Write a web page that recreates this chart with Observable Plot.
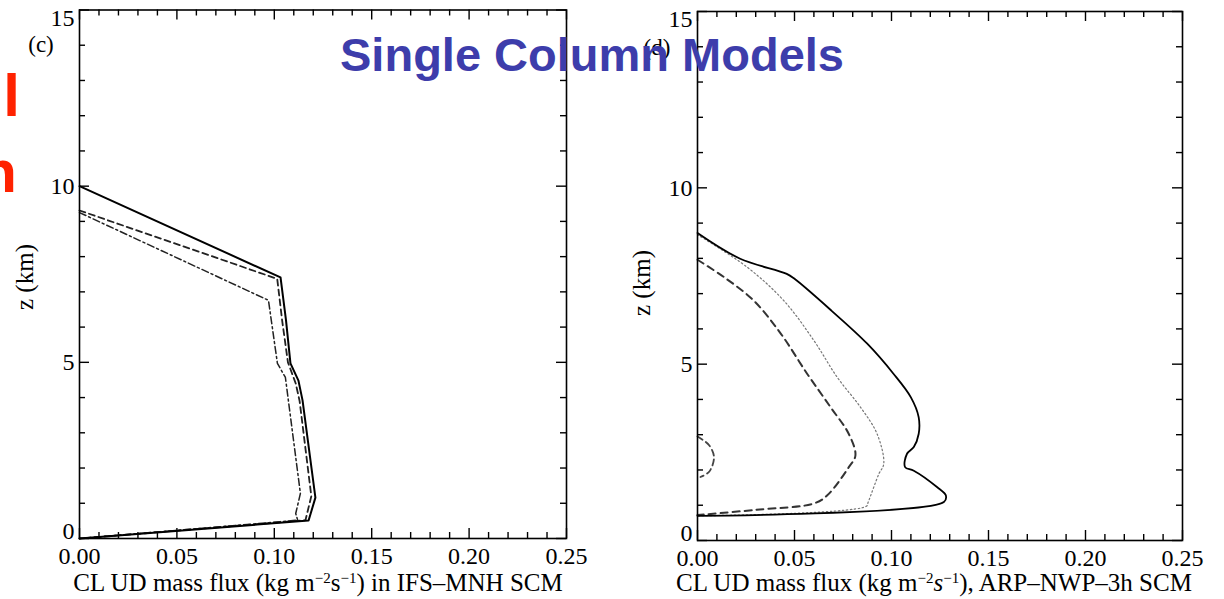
<!DOCTYPE html>
<html><head><meta charset="utf-8">
<script src="https://cdn.jsdelivr.net/npm/d3@7"></script>
<script src="https://cdn.jsdelivr.net/npm/@observablehq/plot@0.6"></script>
<style>
body{margin:0;background:#fff;}
#wrap{position:relative;width:1224px;height:599px;overflow:hidden;background:#fff;font-family:"Liberation Serif",serif;color:#000;}
.abs{position:absolute;white-space:nowrap;}
.panel{position:absolute;top:0;}
sup{font-size:0.6em;line-height:0;vertical-align:0.55em;}
</style></head><body><div id="wrap"></div>
<script>
// ---- tick values ----
const xMajor = [0, 0.05, 0.10, 0.15, 0.20, 0.25];
const xMinor = [0.01,0.02,0.03,0.04,0.06,0.07,0.08,0.09,0.11,0.12,0.13,0.14,0.16,0.17,0.18,0.19,0.21,0.22,0.23,0.24];
const yMajor = [0, 5, 10, 15];
const yMinor = [1,2,3,4,6,7,8,9,11,12,13,14];

// ---- left panel (c): IFS-MNH SCM, [mass flux, z km] ----
const ifsSolid = [[0.000,10.00],[0.1032,7.41],[0.1060,6.20],[0.1083,4.97],[0.1124,4.48],[0.1145,3.92],[0.1211,1.16],[0.1176,0.51],[0.000,0.00]];
const ifsDashed = [[0.000,9.31],[0.1015,7.37],[0.1040,6.20],[0.1070,5.00],[0.1110,4.40],[0.1130,3.90],[0.1190,1.20],[0.1160,0.52],[0.000,0.00]];
const ifsDashDot = [[0.000,9.25],[0.0970,6.76],[0.1016,4.97],[0.1057,4.57],[0.1134,1.28],[0.1110,0.71],[0.1120,0.52],[0.000,0.00]];

// ---- right panel (d): ARP-NWP-3h SCM ----
const arpSolid = [[0.000,8.72],[0.022,7.99],[0.046,7.56],[0.050,7.42],[0.069,6.52],[0.0875,5.58],[0.101,4.73],[0.110,4.06],[0.114,3.50],[0.114,3.02],[0.1115,2.65],[0.108,2.46],[0.107,2.08],[0.1115,1.98],[0.1236,1.51],[0.128,1.28],[0.127,1.09],[0.000,0.70]];
const arpDotted = [[0.000,8.67],[0.0256,7.75],[0.0445,6.80],[0.060,5.67],[0.072,4.63],[0.084,3.78],[0.0926,3.02],[0.096,2.17],[0.0935,1.89],[0.088,1.09],[0.087,0.97],[0.000,0.70]];
const arpDashed = [[0.000,7.96],[0.0136,7.47],[0.029,6.80],[0.043,5.86],[0.0565,4.73],[0.0686,3.78],[0.078,3.02],[0.0814,2.41],[0.078,2.08],[0.0669,1.28],[0.060,1.05],[0.030,0.87],[0.000,0.72]];
const arpBump = [[0.000,2.95],[0.006,2.70],[0.0085,2.36],[0.006,1.95],[0.0015,1.80]];

function panel({lines, marginLeft, marginRight, marginTop, marginBottom}) {
  const W = 612, H = 599;
  const ph = H - marginTop - marginBottom;
  const pw = W - marginLeft - marginRight;
  const tk = {stroke:"#000", strokeWidth:1.4};
  const ax = {tickSize:0, label:null, fontSize:24, fontFamily:"Liberation Serif"};
  return Plot.plot({
    width: W, height: H, marginLeft, marginRight, marginTop, marginBottom,
    x: {domain:[0,0.25]}, y: {domain:[0,15]},
    style: {fontFamily:"Liberation Serif", fontSize:"24px", color:"#000", background:"transparent", overflow:"visible"},
    marks: [
      Plot.ruleX(xMajor, {...tk, insetTop: ph-10}),
      Plot.ruleX(xMinor, {...tk, insetTop: ph-6}),
      Plot.ruleX(xMajor, {...tk, insetBottom: ph-10}),
      Plot.ruleX(xMinor, {...tk, insetBottom: ph-6}),
      Plot.ruleY(yMajor, {...tk, insetRight: pw-10}),
      Plot.ruleY(yMinor, {...tk, insetRight: pw-6}),
      Plot.ruleY(yMajor, {...tk, insetLeft: pw-10}),
      Plot.ruleY(yMinor, {...tk, insetLeft: pw-6}),
      Plot.axisX(xMajor, {...ax, anchor:"bottom", tickPadding:8, tickFormat: d3.format(".2f")}),
      Plot.axisY([5,10], {...ax, anchor:"left", tickPadding:5}),
      Plot.axisY([15], {...ax, anchor:"left", tickPadding:5, dy:8}),
      Plot.axisY([0], {...ax, anchor:"left", tickPadding:5, dy:-7}),
      ...lines.map(l => Plot.line(l.data, {x: d=>d[0], y: d=>d[1], stroke: l.color || "#000", strokeWidth: l.width, strokeDasharray: l.dash, curve: l.curve || "linear"})),
      Plot.frame({stroke:"#000", strokeWidth:1.6})
    ]
  });
}

const wrap = document.getElementById("wrap");
const left = panel({
  marginLeft:79, marginRight:46, marginTop:9.5, marginBottom:61,
  lines: [
    {data: ifsDashDot, width:1.5, dash:"7,3,2,3", color:"#222"},
    {data: ifsDashed, width:1.8, dash:"6,4", color:"#222"},
    {data: ifsSolid, width:2}
  ]
});
left.classList.add("panel"); left.style.left = "0px";
wrap.appendChild(left);

const right = panel({
  marginLeft:85, marginRight:42, marginTop:11, marginBottom:59,
  lines: [
    {data: arpBump, width:1.8, dash:"6,4", color:"#444", curve:"catmull-rom"},
    {data: arpDotted, width:1.2, dash:"1.5,2.5", color:"#777", curve:"catmull-rom"},
    {data: arpDashed, width:2, dash:"7,5", color:"#333", curve:"catmull-rom"},
    {data: arpSolid, width:1.8, curve:"catmull-rom"}
  ]
});
right.classList.add("panel"); right.style.left = "612px";
wrap.appendChild(right);

function addText(html, css) {
  const d = document.createElement("div");
  d.className = "abs";
  d.innerHTML = html;
  Object.assign(d.style, css);
  wrap.appendChild(d);
  return d;
}
// axis titles
addText("CL UD mass flux (kg m<sup>&minus;2</sup>s<sup>&minus;1</sup>) in IFS&ndash;MNH SCM",
  {left:"0px", width:"636px", textAlign:"center", top:"570px", fontSize:"25px", lineHeight:"25px"});
addText("CL UD mass flux (kg m<sup>&minus;2</sup><i>s</i><sup>&minus;1</sup>), ARP&ndash;NWP&ndash;3h SCM",
  {left:"612px", width:"644px", textAlign:"center", top:"570px", fontSize:"25px", lineHeight:"25px"});
addText("z (km)", {left:"24px", top:"277px", fontSize:"25px", lineHeight:"25px", transform:"translate(-50%,-50%) rotate(-90deg)"});
addText("z (km)", {left:"641px", top:"283px", fontSize:"25px", lineHeight:"25px", transform:"translate(-50%,-50%) rotate(-90deg)"});
addText("(c)", {left:"41px", top:"45px", fontSize:"23px", lineHeight:"16px", transform:"translate(-50%,-50%)"});
addText("(d)", {left:"657px", top:"48px", fontSize:"23px", lineHeight:"16px", transform:"translate(-50%,-50%)"});
// slide overlay text
addText("Single Column Models", {left:"292px", width:"600px", textAlign:"center", top:"36.5px", fontFamily:"'Liberation Sans',Arial,sans-serif", fontWeight:"bold", fontSize:"47px", lineHeight:"36px", color:"#3d3dab"});
addText("l", {right:"1204px", top:"66px", fontFamily:"'Liberation Sans',Arial,sans-serif", fontWeight:"bold", fontSize:"60px", lineHeight:"60px", color:"#ff2200"});
addText("n", {right:"1207px", top:"142px", fontFamily:"'Liberation Sans',Arial,sans-serif", fontWeight:"bold", fontSize:"60px", lineHeight:"60px", color:"#ff2200"});
</script>
</body></html>
